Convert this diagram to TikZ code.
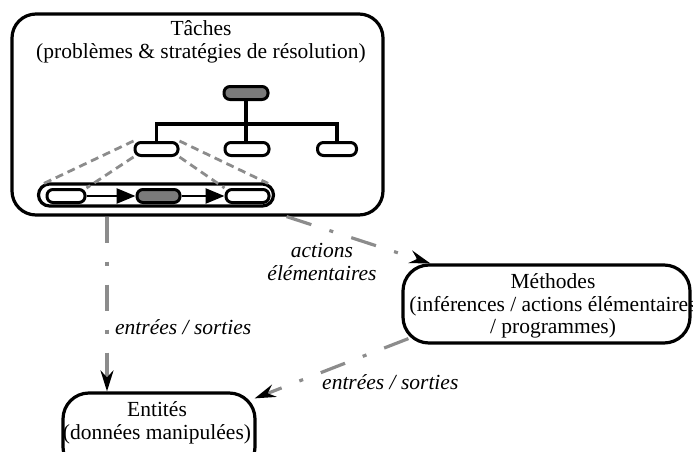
\documentclass[tikz,border=0pt]{standalone}
\usepackage{fontspec}
\setmainfont{Liberation Serif}
\usetikzlibrary{arrows.meta}
\definecolor{linegray}{HTML}{8C8C8C}
\definecolor{fillgray}{HTML}{7A7A7A}
\begin{document}
\begin{tikzpicture}[x=1pt,y=-1pt,
  txt/.style={font=\fontsize{21.5}{22.5}\selectfont, inner sep=0pt, align=center},
  lbl/.style={txt, font=\fontsize{21.5}{22.5}\selectfont\itshape},
  bigbox/.style={draw=black, line width=3.2pt, rounded corners=#1, inner sep=0pt},
  bigbox/.default=20pt,
  leaf/.style={draw=black, line width=3pt, rounded corners=6pt, inner sep=0pt,
    minimum height=13pt, fill=white},
  darkleaf/.style={leaf, fill=fillgray},
  branch/.style={line width=3.2pt},
  seqarrow/.style={line width=2.6pt, -{Triangle[length=19pt,width=15pt]}},
  zoomline/.style={draw=linegray, line width=2.8pt, dash pattern=on 8pt off 5pt},
  flow/.style={draw=linegray, line width=3.2pt,
    dash pattern=on 26pt off 19pt on 4pt off 19pt,
    -{Stealth[length=21pt,width=13pt,inset=7pt,color=black]}},
]
\clip (0,0) rectangle (693,452);

% ---- task decomposition frame ----
\node[bigbox=24pt, minimum width=371pt, minimum height=201pt] (tasks) at (197.5,114.5) {};
\node[txt] (tasktitle) at (201,42) {Tâches\\(problèmes \& stratégies de résolution)};

% task tree
\node[darkleaf, minimum width=44pt] (root) at (246,93) {};
\node[leaf, minimum width=43pt] (c1) at (156.5,149) {};
\node[leaf, minimum width=44pt] (c2) at (247,149) {};
\node[leaf, minimum width=39pt] (c3) at (337,149) {};
\coordinate (bar) at (0,124);
\draw[branch] (c1.north) -- (c1.north |- bar) -- (c3.north |- bar) -- (c3.north);
\draw[branch] (root.south) -- (root.south |- c2.north);

% sequence that refines the first sub-task
\node[bigbox=11pt, minimum width=235pt, minimum height=22pt] (seq) at (156,195) {};
\node[leaf, minimum width=38pt] (s1) at (66,196) {};
\node[darkleaf, minimum width=43pt] (s2) at (158.5,196) {};
\node[leaf, minimum width=43pt] (s3) at (247.5,196) {};
\draw[seqarrow] (s1.east) -- (s2.west);
\draw[seqarrow] (s2.east) -- (s3.west);

% dashed fan from the sub-task to its sequence
\draw[zoomline] (c1.north west) -- ([xshift=7pt,yshift=-1pt]seq.north west);
\draw[zoomline] (c1.south west) -- (s1.north east);
\draw[zoomline] (c1.south east) -- (s3.north west);
\draw[zoomline] (c1.north east) -- ([xshift=-7pt,yshift=-1pt]seq.north east);

% ---- methods and entities ----
\node[bigbox=26pt, minimum width=287pt, minimum height=78pt] (meth) at (546.5,304) {};
\node[txt] (methtext) at (553,306) {Méthodes\\(inférences / actions élémentaires\\/ programmes)};

\node[bigbox=26pt, minimum width=192pt, minimum height=80pt] (ent) at (159,433) {};
\node[txt] (enttext) at (157,423) {Entités\\(données manipulées)};

% ---- flows between the three parts ----
\coordinate (iox) at (107,0);
\draw[flow] (tasks.south -| iox) -- (ent.north -| iox);
\node[lbl, anchor=west] (io1) at (115,327) {entrées / sorties};

\draw[flow] ([xshift=-98pt]tasks.south east) -- ([xshift=29pt]meth.north west);
\node[lbl] (act) at (322,262) {actions\\élémentaires};

\draw[flow] ([xshift=7pt,yshift=6pt]meth.south west) -- ([xshift=-2pt,yshift=-7pt]ent.north east);
\node[lbl, anchor=west] (io2) at (322,382) {entrées / sorties};
\end{tikzpicture}
\end{document}
